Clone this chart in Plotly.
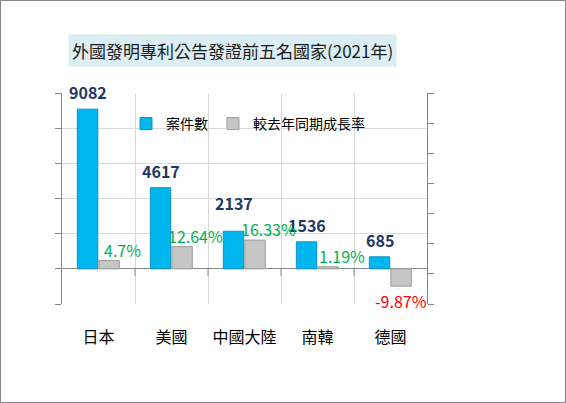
import plotly.graph_objects as go

# data
countries = ["日本", "美國", "中國大陸", "南韓", "德國"]
cases = [9082, 4617, 2137, 1536, 685]
growth = [0.047, 0.1264, 0.1633, 0.0119, -0.0987]

title_text = "外國發明專利公告發證前五名國家(2021年)"
case_name = "案件數"
growth_name = "較去年同期成長率"

# plot area in pixels (566 x 403 page)
W, H = 566, 403
L, R, T, B = 62, 139, 93, 99
PW, PH = W - L - R, H - T - B

FONT = "Noto Sans CJK TC, Microsoft JhengHei, sans-serif"


def px_x(p):
    return (p - L) / PW


def px_y(p):
    return 1 - (p - T) / PH


fig = go.Figure()

fig.add_trace(go.Bar(
    x=countries, y=cases, name=case_name,
    width=0.28, offset=-0.29,
    marker=dict(color="#00B6EF", line=dict(color="#1190C4", width=1)),
    yaxis="y",
))
fig.add_trace(go.Bar(
    x=countries, y=growth, name=growth_name,
    width=0.28, offset=0.005,
    marker=dict(color="#C6C6C6", line=dict(color="#9C9C9C", width=1)),
    yaxis="y2",
))

annotations = []

# case count labels (the 中國大陸 one sits a bit higher in the original)
lift = {"中國大陸": 28}
for c, v in zip(countries, cases):
    annotations.append(dict(
        x=c, y=v, xref="x", yref="y", text=str(v), showarrow=False,
        xshift=-11, yshift=lift.get(c, 17), yanchor="middle",
        font=dict(family=FONT, size=16, color="#1F3864", weight="bold"),
    ))

# growth labels
for c, g in zip(countries, growth):
    annotations.append(dict(
        x=c, y=g, xref="x", yref="y2", text=f"{g * 100:g}%", showarrow=False,
        xshift=24 if g > 0 else 10, yshift=11 if g > 0 else -15, yanchor="middle",
        font=dict(family=FONT, size=16, color="#00B050" if g > 0 else "#FF0000"),
    ))

# title box
annotations.append(dict(
    x=px_x(232), y=px_y(50), xref="paper", yref="paper",
    text=title_text, showarrow=False, xanchor="center", yanchor="middle",
    bgcolor="#DAEEF3", borderpad=3,
    font=dict(family=FONT, size=17, color="#1A1A1A"),
))

shapes = [
    # outer frame
    dict(type="rect", xref="paper", yref="paper",
         x0=px_x(0.5), x1=px_x(565.5), y0=px_y(402.5), y1=px_y(0.5),
         line=dict(color="#868686", width=1), layer="below"),
]
# small tick marks under the zero line at category boundaries
for i in range(len(countries) - 1):
    shapes.append(dict(type="line", xref="x", yref="y",
                       x0=i + 0.5, x1=i + 0.5, y0=0, y1=-400,
                       line=dict(color="#868686", width=1)))

fig.update_layout(
    width=W, height=H,
    margin=dict(l=L, r=R, t=T, b=B),
    paper_bgcolor="white", plot_bgcolor="white",
    barmode="overlay",
    showlegend=True,
    legend=dict(
        orientation="h", x=px_x(126), y=px_y(124), xanchor="left", yanchor="middle",
        font=dict(family=FONT, size=14, color="#000000"),
        bgcolor="rgba(0,0,0,0)", itemwidth=30,
    ),
    xaxis=dict(
        type="category", tickson="boundaries", showgrid=True, gridcolor="#D9D9D9",
        ticks="", showline=False, ticklabelstandoff=22,
        tickfont=dict(family=FONT, size=16, color="#000000"),
        range=[-0.5, len(countries) - 0.5], fixedrange=True,
    ),
    yaxis=dict(
        range=[-2000, 10000], dtick=2000, showgrid=True, gridcolor="#D9D9D9",
        showline=True, linecolor="#868686", ticks="outside", ticklen=6,
        tickcolor="#868686", showticklabels=False,
        zeroline=True, zerolinecolor="#868686", zerolinewidth=1,
    ),
    yaxis2=dict(
        overlaying="y", side="right", range=[-0.2, 1.0],
        tickvals=[-0.2 + i * 1.2 / 7 for i in range(8)],
        showgrid=False, zeroline=False, showline=True, linecolor="#868686",
        ticks="outside", ticklen=6, tickcolor="#868686", showticklabels=False,
    ),
    annotations=annotations,
    shapes=shapes,
)

# drop the browser's default body margin so the chart sits at the page corner
fig.write_html(
    "out.html",
    config={"displayModeBar": False},
    post_script="document.body.style.margin = '0px';",
)
